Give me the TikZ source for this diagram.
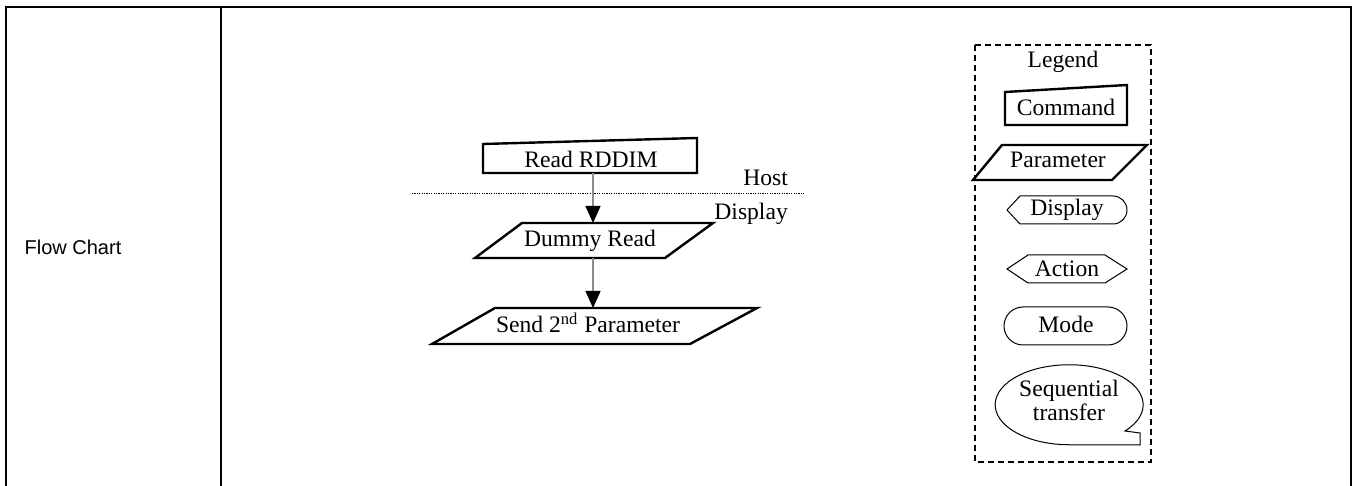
\documentclass[tikz,border=0pt]{standalone}
\usepackage{fontspec}
\setmainfont{Liberation Serif}
\newfontfamily\arialf{Liberation Sans}
\usetikzlibrary{arrows.meta}
\begin{document}
\begin{tikzpicture}[x=0.5pt,y=-0.5pt,
  tbl/.style={line width=0.9pt},
  thickshape/.style={line width=1.2pt,line join=miter},
  thinshape/.style={line width=0.5pt},
  lbl/.style={inner sep=0pt,anchor=base,font=\fontsize{11.8}{13}\selectfont},
  flowarrow/.style={draw=black!45,line width=0.6pt,-{Triangle[length=8.5pt,width=7.5pt,color=black]}},
  legendbox/.style={dashed,dash pattern=on 3pt off 2pt,line width=0.7pt}]
\useasboundingbox (0,0) rectangle (1357,486);
% table
\draw[tbl] (6,486) |- (1351,7) -- (1351,486);
\draw[tbl] (221,7) -- (221,486);
\node[inner sep=0pt,anchor=base,font=\arialf\fontsize{10}{12}\selectfont] (fc) at (73,255) {Flow Chart};
% flow
\draw[thickshape] (483,144) -- (697,138) -- (697,173) -- (483,173) -- cycle;
\node[lbl] (rd) at (591,168) {Read RDDIM};
\draw[line width=0.4pt,dash pattern=on 0.6pt off 0.6pt] (412,193) -- (805,193);
\node[lbl,anchor=base west] (host) at (743,186) {Host};
\node[lbl,anchor=base west] (disp) at (714,220) {Display};
\draw[thickshape] (522,223) -- (713,223) -- (665,258) -- (475,258) -- cycle;
\node[lbl] (dr) at (590,247) {Dummy Read};
\draw[thickshape] (495,308) -- (757,308) -- (690,344) -- (432,344) -- cycle;
\node[lbl] (sp) at (588,333) {Send 2\textsuperscript{nd} Parameter};
\coordinate (rdB) at (593,173);
\coordinate (drT) at (593,223);
\coordinate (drB) at (593,258);
\coordinate (spT) at (593,308);
\draw[flowarrow] (rdB) -- (drT);
\draw[flowarrow] (drB) -- (spT);
% legend
\draw[legendbox] (975,45) rectangle (1151,462);
\node[lbl] (lg) at (1063,68) {Legend};
\draw[thickshape] (1005,92) -- (1127,85) -- (1127,125) -- (1005,125) -- cycle;
\node[lbl] (cmd) at (1066,116) {Command};
\draw[thickshape] (1002,145) -- (1147,145) -- (1112,180) -- (973,180) -- cycle;
\node[lbl] (par) at (1058,168) {Parameter};
\draw[thinshape] (1007,210) -- (1020,196) -- (1113,196) arc[start angle=90,end angle=-90,x radius=7pt,y radius=7pt] -- (1020,224) -- cycle;
\node[lbl] (dsp) at (1067,216) {Display};
\draw[thinshape] (1007,269) -- (1028,255) -- (1105,255) -- (1127,269) -- (1105,283) -- (1028,283) -- cycle;
\node[lbl] (act) at (1067,277) {Action};
\draw[thinshape,rounded corners=9.5pt] (1004,307) rectangle (1127,345);
\node[lbl] (mode) at (1066,333) {Mode};
\draw[thinshape] (1125,431) arc[start angle=-41,end angle=270,x radius=37pt,y radius=20pt] -- (1140,445) -- (1140,433) -- cycle;
\node[lbl] (seq) at (1069,397) {Sequential};
\node[lbl] (tr) at (1069,421) {transfer};
\end{tikzpicture}
\end{document}
